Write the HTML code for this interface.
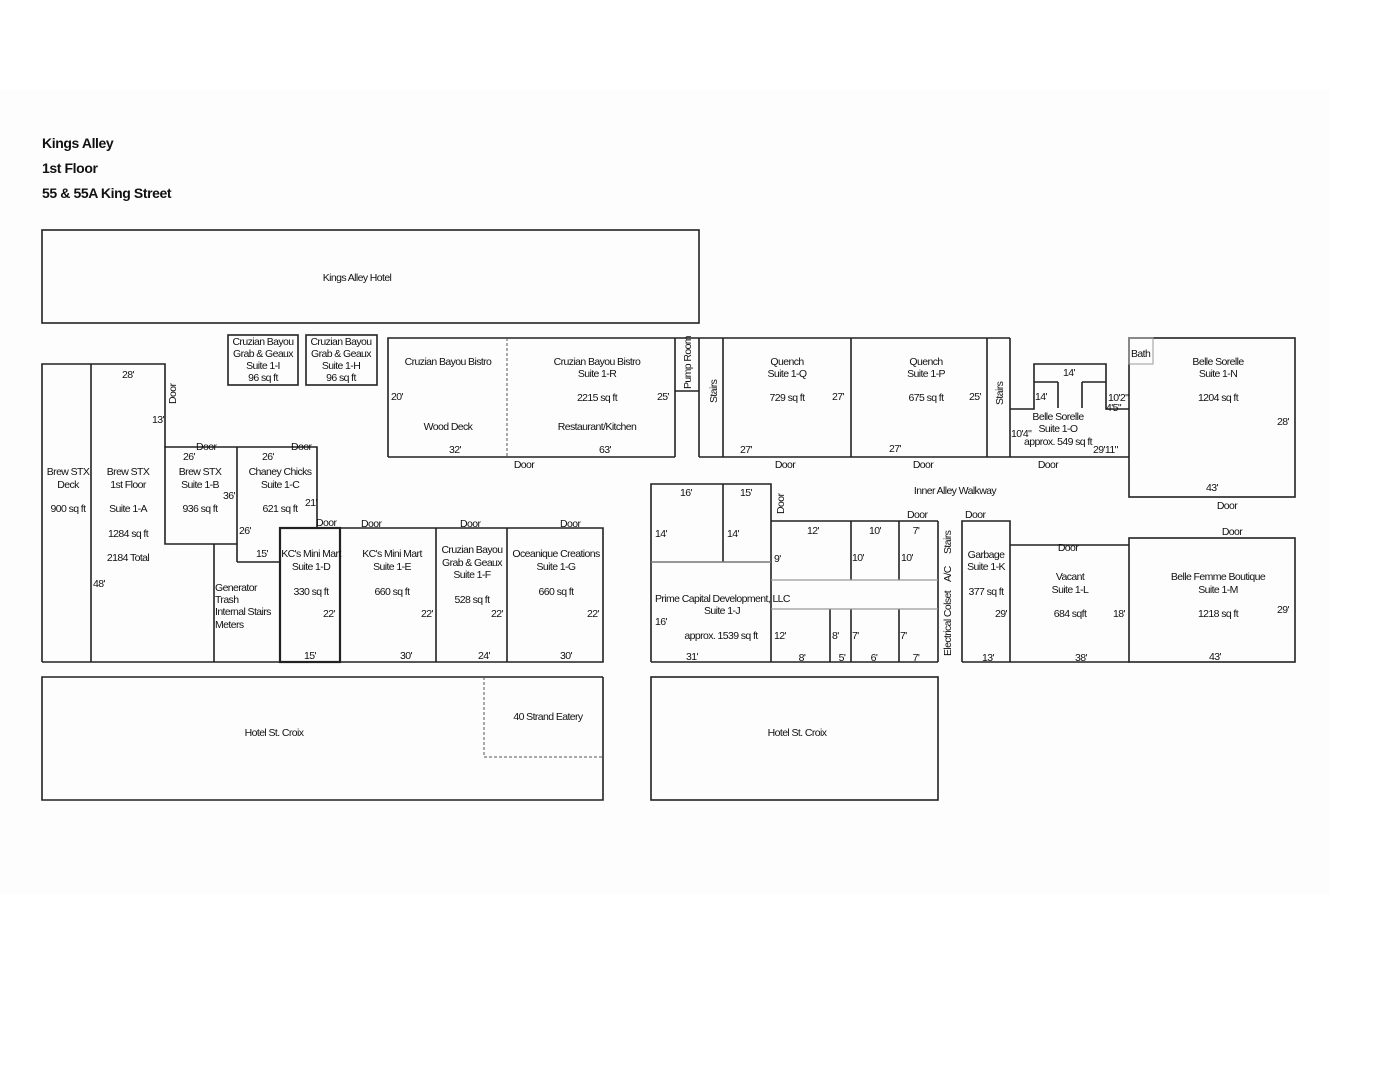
<!DOCTYPE html>
<html><head><meta charset="utf-8"><style>
html,body{margin:0;padding:0;background:#fff;}
svg{display:block;}
text{font-family:"Liberation Sans Narrow","Liberation Sans",sans-serif;font-size:10.5px;letter-spacing:-0.6px;fill:#111;}
.t{font-size:14px;font-weight:bold;letter-spacing:-0.4px;}
.c{text-anchor:middle;}
</style></head><body>
<svg width="1398" height="1080" viewBox="0 0 1398 1080" xmlns="http://www.w3.org/2000/svg">
<rect x="0" y="0" width="1398" height="1080" fill="#fff"/>
<rect x="0" y="90" width="1330" height="805" fill="#fdfdfd"/>
<text class="t" x="42" y="148">Kings Alley</text>
<text class="t" x="42" y="173">1st Floor</text>
<text class="t" x="42" y="198">55 &amp; 55A King Street</text>

<g fill="none" stroke="#222" stroke-width="1.6">
<rect x="42" y="230" width="657" height="93"/>
<rect x="228" y="335" width="70" height="50"/>
<rect x="306" y="335" width="71" height="50"/>
<polyline points="42,662 42,364 165,364 165,447 317,447 317,528 603,528 603,662 42,662"/>
<line x1="91" y1="364" x2="91" y2="662"/>
<polyline points="165,447 165,544 237,544"/>
<line x1="237" y1="447" x2="237" y2="562"/>
<line x1="237" y1="562" x2="280" y2="562"/>
<line x1="214" y1="544" x2="214" y2="662"/>
<rect x="280" y="528" width="60" height="134" stroke-width="2.2"/>
<line x1="436" y1="528" x2="436" y2="662"/>
<line x1="507" y1="528" x2="507" y2="662"/>
<polyline points="388,457 388,338 1010,338"/>
<line x1="388" y1="457" x2="675" y2="457"/>
<line x1="675" y1="338" x2="675" y2="457"/>
<line x1="675" y1="391" x2="699" y2="391"/>
<line x1="699" y1="338" x2="699" y2="457"/>
<line x1="699" y1="457" x2="1129" y2="457"/>
<line x1="723" y1="338" x2="723" y2="457"/>
<line x1="851" y1="338" x2="851" y2="457"/>
<line x1="987" y1="338" x2="987" y2="457"/>
<line x1="1010" y1="338" x2="1010" y2="457"/>
<polyline points="1010,409 1034,409 1034,364 1106,364 1106,409 1129,409"/>
<line x1="1034" y1="382" x2="1058" y2="382"/>
<line x1="1082" y1="382" x2="1106" y2="382"/>
<line x1="1058" y1="382" x2="1058" y2="408"/>
<line x1="1082" y1="382" x2="1082" y2="408"/>
<rect x="1129" y="338" width="166" height="159"/>
<rect x="1129" y="338" width="24" height="26" stroke="#999" stroke-width="1"/>
<polyline points="651,662 651,484 771,484 771,662"/>
<line x1="723" y1="484" x2="723" y2="562"/>
<line x1="771" y1="521" x2="938" y2="521"/>
<line x1="851" y1="521" x2="851" y2="580"/>
<line x1="899" y1="521" x2="899" y2="580"/>
<line x1="938" y1="521" x2="938" y2="662"/>
<line x1="830" y1="609" x2="830" y2="662"/>
<line x1="851" y1="609" x2="851" y2="662"/>
<line x1="899" y1="609" x2="899" y2="662"/>
<line x1="651" y1="662" x2="938" y2="662"/>
<polyline points="962,662 962,521 1010,521 1010,662"/>
<line x1="1010" y1="545" x2="1129" y2="545"/>
<rect x="1129" y="538" width="166" height="124"/>
<line x1="962" y1="662" x2="1129" y2="662"/>
<polyline points="603,677 603,800 42,800 42,677 603,677"/>
<rect x="651" y="677" width="287" height="123"/>
</g>
<g fill="none" stroke="#555" stroke-width="1">
<line x1="507" y1="338" x2="507" y2="457" stroke-dasharray="3,2"/>
<polyline points="484,677 484,757 603,757" stroke-dasharray="3,2"/>
<line x1="651" y1="562" x2="771" y2="562" stroke="#777" stroke-width="1.4"/>
<line x1="771" y1="580" x2="938" y2="580" stroke="#999" stroke-width="1.2"/>
<line x1="771" y1="609" x2="938" y2="609" stroke="#999" stroke-width="1.2"/>
</g>

<text class="c" x="357" y="281">Kings Alley Hotel</text>
<text class="c" x="263" y="345">Cruzian Bayou</text><text class="c" x="263" y="357">Grab &amp; Geaux</text><text class="c" x="263" y="369">Suite 1-I</text><text class="c" x="263" y="381">96 sq ft</text>
<text class="c" x="341" y="345">Cruzian Bayou</text><text class="c" x="341" y="357">Grab &amp; Geaux</text><text class="c" x="341" y="369">Suite 1-H</text><text class="c" x="341" y="381">96 sq ft</text>

<text class="c" x="68" y="475">Brew STX</text><text class="c" x="68" y="488">Deck</text><text class="c" x="68" y="512">900 sq ft</text>
<text class="c" x="128" y="378">28'</text>
<text class="c" x="128" y="475">Brew STX</text><text class="c" x="128" y="488">1st Floor</text><text class="c" x="128" y="512">Suite 1-A</text><text class="c" x="128" y="537">1284 sq ft</text><text class="c" x="128" y="561">2184 Total</text>
<text x="93" y="587">48'</text>
<text x="152" y="423">13'</text>
<text transform="translate(176,404) rotate(-90)">Door</text>
<text x="196" y="450">Door</text><text x="291" y="450">Door</text>
<text x="183" y="460">26'</text><text x="262" y="460">26'</text>
<text class="c" x="200" y="475">Brew STX</text><text class="c" x="200" y="488">Suite 1-B</text><text class="c" x="200" y="512">936 sq ft</text>
<text x="223" y="499">36'</text>
<text class="c" x="280" y="475">Chaney Chicks</text><text class="c" x="280" y="488">Suite 1-C</text><text class="c" x="280" y="512">621 sq ft</text>
<text x="305" y="506">21'</text>
<text x="239" y="534">26'</text><text x="256" y="557">15'</text>
<text x="316" y="526">Door</text><text x="361" y="527">Door</text><text x="460" y="527">Door</text><text x="560" y="527">Door</text>
<text class="c" x="311" y="557">KC's Mini Mart</text><text class="c" x="311" y="570">Suite 1-D</text><text class="c" x="311" y="595">330 sq ft</text><text x="323" y="617">22'</text><text class="c" x="310" y="659">15'</text>
<text class="c" x="392" y="557">KC's Mini Mart</text><text class="c" x="392" y="570">Suite 1-E</text><text class="c" x="392" y="595">660 sq ft</text><text x="421" y="617">22'</text><text class="c" x="406" y="659">30'</text>
<text class="c" x="472" y="553">Cruzian Bayou</text><text class="c" x="472" y="566">Grab &amp; Geaux</text><text class="c" x="472" y="578">Suite 1-F</text><text class="c" x="472" y="603">528 sq ft</text><text x="491" y="617">22'</text><text class="c" x="484" y="659">24'</text>
<text class="c" x="556" y="557">Oceanique Creations</text><text class="c" x="556" y="570">Suite 1-G</text><text class="c" x="556" y="595">660 sq ft</text><text x="587" y="617">22'</text><text class="c" x="566" y="659">30'</text>
<text x="215" y="591">Generator</text><text x="215" y="603">Trash</text><text x="215" y="615">Internal Stairs</text><text x="215" y="628">Meters</text>

<text class="c" x="448" y="365">Cruzian Bayou Bistro</text>
<text x="391" y="400">20'</text>
<text class="c" x="448" y="430">Wood Deck</text>
<text class="c" x="455" y="453">32'</text>
<text class="c" x="597" y="365">Cruzian Bayou Bistro</text><text class="c" x="597" y="377">Suite 1-R</text><text class="c" x="597" y="401">2215 sq ft</text><text class="c" x="597" y="430">Restaurant/Kitchen</text>
<text x="657" y="400">25'</text><text class="c" x="605" y="453">63'</text>
<text class="c" x="524" y="468">Door</text>
<text transform="translate(691,389) rotate(-90)">Pump Room</text>
<text transform="translate(717,403) rotate(-90)">Stairs</text>
<text class="c" x="787" y="365">Quench</text><text class="c" x="787" y="377">Suite 1-Q</text><text class="c" x="787" y="401">729 sq ft</text><text x="832" y="400">27'</text><text x="740" y="453">27'</text>
<text class="c" x="926" y="365">Quench</text><text class="c" x="926" y="377">Suite 1-P</text><text class="c" x="926" y="401">675 sq ft</text><text x="969" y="400">25'</text><text x="889" y="452">27'</text>
<text transform="translate(1003,405) rotate(-90)">Stairs</text>
<text class="c" x="785" y="468">Door</text><text class="c" x="923" y="468">Door</text><text class="c" x="1048" y="468">Door</text>
<text x="1063" y="376">14'</text><text x="1035" y="400">14'</text>
<text x="1108" y="401">10'2"</text><text x="1106" y="411">4'5"</text>
<text class="c" x="1058" y="420">Belle Sorelle</text><text class="c" x="1058" y="432">Suite 1-O</text><text class="c" x="1058" y="445">approx. 549 sq ft</text>
<text x="1011" y="437">10'4"</text><text x="1093" y="453">29'11"</text>
<text x="1131" y="357">Bath</text>
<text class="c" x="1218" y="365">Belle Sorelle</text><text class="c" x="1218" y="377">Suite 1-N</text><text class="c" x="1218" y="401">1204 sq ft</text>
<text x="1277" y="425">28'</text><text class="c" x="1212" y="491">43'</text><text class="c" x="1227" y="509">Door</text>
<text class="c" x="955" y="494">Inner Alley Walkway</text>

<text class="c" x="686" y="496">16'</text><text class="c" x="746" y="496">15'</text>
<text transform="translate(784,514) rotate(-90)">Door</text>
<text x="655" y="537">14'</text><text x="727" y="537">14'</text>
<text x="907" y="518">Door</text><text x="965" y="518">Door</text>
<text class="c" x="813" y="534">12'</text><text class="c" x="875" y="534">10'</text><text class="c" x="916" y="534">7'</text>
<text x="774" y="562">9'</text><text x="852" y="561">10'</text><text x="901" y="561">10'</text>
<text x="655" y="602">Prime Capital Development, LLC</text>
<text class="c" x="722" y="614">Suite 1-J</text>
<text x="655" y="625">16'</text>
<text class="c" x="721" y="639">approx. 1539 sq ft</text>
<text class="c" x="692" y="660">31'</text>
<text x="774" y="639">12'</text><text x="832" y="639">8'</text><text x="852" y="639">7'</text><text x="900" y="639">7'</text>
<text class="c" x="802" y="661">8'</text><text class="c" x="842" y="661">5'</text><text class="c" x="874" y="661">6'</text><text class="c" x="916" y="661">7'</text>
<text transform="translate(951,656) rotate(-90)">Electrical Colset</text>
<text transform="translate(951,582) rotate(-90)">A/C</text>
<text transform="translate(951,554) rotate(-90)">Stairs</text>
<text class="c" x="986" y="558">Garbage</text><text class="c" x="986" y="570">Suite 1-K</text><text class="c" x="986" y="595">377 sq ft</text>
<text x="995" y="617">29'</text><text class="c" x="988" y="661">13'</text>
<text class="c" x="1068" y="551">Door</text>
<text class="c" x="1070" y="580">Vacant</text><text class="c" x="1070" y="593">Suite 1-L</text><text class="c" x="1070" y="617">684 sqft</text>
<text x="1113" y="617">18'</text><text class="c" x="1081" y="661">38'</text>
<text class="c" x="1232" y="535">Door</text>
<text class="c" x="1218" y="580">Belle Femme Boutique</text><text class="c" x="1218" y="593">Suite 1-M</text><text class="c" x="1218" y="617">1218 sq ft</text>
<text x="1277" y="613">29'</text><text class="c" x="1215" y="660">43'</text>

<text class="c" x="274" y="736">Hotel St. Croix</text>
<text class="c" x="548" y="720">40 Strand Eatery</text>
<text class="c" x="797" y="736">Hotel St. Croix</text>
</svg>
</body></html>
